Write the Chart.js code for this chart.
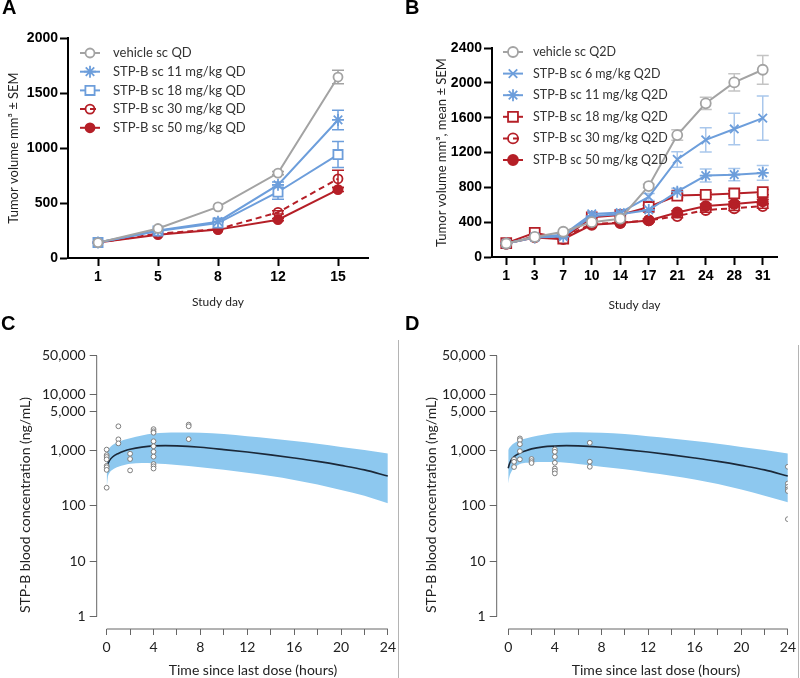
<!DOCTYPE html>
<html>
<head>
<meta charset="utf-8">
<script src="https://cdn.jsdelivr.net/npm/chart.js@4.4.1/dist/chart.umd.min.js"></script>
<style>
  body { margin: 0; background: #fff; }
  #wrap { position: relative; width: 800px; height: 678px; overflow: hidden; }
  canvas { position: absolute; }
  .letter { position: absolute; font: bold 20px "Liberation Sans", Arial, sans-serif; line-height: 20px; color: #000; }
  .vline { position: absolute; width: 1px; background: #b4b4b4; }
</style>
</head>
<body>
<div id="wrap">
  <canvas id="cA" width="400" height="320" style="left:0;top:0"></canvas>
  <canvas id="cB" width="400" height="320" style="left:400px;top:0"></canvas>
  <canvas id="cC" width="400" height="358" style="left:0;top:320px"></canvas>
  <canvas id="cD" width="400" height="358" style="left:400px;top:320px"></canvas>
  <div class="letter" style="left:2px;top:-3px">A</div>
  <div class="letter" style="left:405px;top:-3px">B</div>
  <div class="letter" style="left:1px;top:313px">C</div>
  <div class="letter" style="left:405px;top:313px">D</div>
  <div class="vline" style="left:398px;top:340px;height:338px"></div>
  <div class="vline" style="left:798px;top:345px;height:333px"></div>
</div>
<script>
// panel A - tumour volume, QD dosing
const daysA = ['1', '5', '8', '12', '15'];
const vehA = [140, 268, 465, 772, 1645];
const s11A = [140, 250, 330, 665, 1255];
const s18A = [140, 245, 318, 600, 940];
const s30A = [140, 222, 262, 415, 720];
const s50A = [140, 212, 258, 348, 622];
const vehErrA = [0, 0, 0, 15, 62];
const s11ErrA = [0, 0, 0, 25, 88];
const s18ErrA = [0, 0, 0, 65, 118];
const s30ErrA = [0, 0, 0, 15, 78];
const s50ErrA = [0, 0, 0, 10, 18];
const namesA = ['vehicle sc QD', 'STP-B sc 11 mg/kg QD', 'STP-B sc 18 mg/kg QD', 'STP-B sc 30 mg/kg QD', 'STP-B sc 50 mg/kg QD'];

// panel B - tumour volume, Q2D dosing
const daysB = ['1', '3', '7', '10', '14', '17', '21', '24', '28', '31'];
const vehB = [155, 230, 290, 400, 440, 815, 1400, 1765, 2005, 2150];
const s6B = [155, 230, 255, 495, 510, 690, 1120, 1345, 1470, 1595];
const s11B = [155, 225, 235, 470, 490, 540, 750, 935, 945, 965];
const s18B = [160, 278, 212, 455, 482, 575, 705, 715, 730, 745];
const s30B = [150, 240, 225, 380, 395, 420, 470, 540, 560, 585];
const s50B = [155, 225, 205, 370, 390, 420, 512, 585, 610, 638];
const vehErrB = [0, 0, 0, 0, 0, 20, 60, 70, 100, 165];
const s6ErrB = [0, 0, 0, 0, 0, 40, 90, 140, 180, 255];
const s11ErrB = [0, 0, 0, 0, 0, 20, 40, 75, 70, 85];
const s18ErrB = [0, 0, 0, 0, 0, 20, 25, 25, 30, 30];
const s30ErrB = [0, 0, 0, 0, 0, 15, 20, 25, 25, 25];
const s50ErrB = [0, 0, 0, 0, 0, 15, 20, 25, 25, 25];
const namesB = ['vehicle sc Q2D', 'STP-B sc 6 mg/kg Q2D', 'STP-B sc 11 mg/kg Q2D', 'STP-B sc 18 mg/kg Q2D', 'STP-B sc 30 mg/kg Q2D', 'STP-B sc 50 mg/kg Q2D'];

// panels C/D - PK model (median + band) and observed concentrations
const modelT = [0, 0.1, 0.25, 0.5, 1, 1.5, 2, 3, 4, 5, 6, 8, 10, 12, 14, 16, 18, 20, 22, 24];
const medC = [480, 560, 650, 750, 870, 960, 1030, 1130, 1190, 1200, 1190, 1120, 1020, 920, 820, 720, 625, 530, 440, 340];
const upC = [900, 1000, 1100, 1230, 1400, 1530, 1640, 1830, 1980, 2060, 2080, 2050, 1950, 1780, 1620, 1450, 1300, 1140, 1000, 870];
const loC = [200, 320, 390, 440, 500, 540, 565, 585, 580, 560, 540, 490, 440, 390, 340, 290, 240, 190, 150, 110];
const medD = [470, 560, 660, 760, 880, 970, 1050, 1140, 1180, 1200, 1190, 1120, 1020, 920, 820, 720, 625, 530, 440, 340];
const upD = [1000, 1100, 1200, 1330, 1500, 1620, 1720, 1880, 2020, 2080, 2090, 2050, 1950, 1780, 1620, 1450, 1300, 1140, 1000, 870];
const loD = [250, 330, 400, 470, 560, 590, 600, 610, 610, 590, 560, 500, 450, 395, 345, 295, 245, 195, 150, 115];
const obsTC = [0, 0, 0, 0, 0, 0, 0, 0, 1, 1, 1, 2, 2, 2, 4, 4, 4, 4, 4, 4, 4, 4, 4, 4, 7, 7, 7];
const obsC = [1020, 810, 750, 680, 520, 490, 440, 210, 2680, 1560, 1320, 860, 690, 430, 2380, 2180, 2050, 1440, 1170, 930, 760, 560, 510, 465, 2870, 2680, 1570];
const obsTD = [0.5, 0.5, 0.5, 1, 1, 1, 1, 1, 2, 2, 2, 4, 4, 4, 4, 4, 4, 4, 7, 7, 7, 24, 24, 24, 24, 24, 24];
const obsD = [680, 615, 495, 1620, 1510, 1275, 955, 680, 690, 630, 585, 1025, 930, 755, 590, 465, 425, 380, 1350, 617, 500, 500, 250, 218, 196, 183, 57];
const hourTicks = [0, 2, 4, 6, 8, 10, 12, 14, 16, 18, 20, 22, 24];
const concTicks = [1, 10, 100, 1000, 5000, 10000, 50000];

const GRAY = '#a3a3a3', BLUE = '#6d9edb', RED = '#b51f27';
const BOLD = { family: '"Liberation Sans", Arial, sans-serif', weight: 'bold', size: 14 };

// error bars drawn under the markers
const errorBars = {
  id: 'errorBars',
  beforeDatasetsDraw(chart) {
    const ctx = chart.ctx, ys = chart.scales.y;
    chart.data.datasets.forEach((ds, k) => {
      if (!ds.err) return;
      const meta = chart.getDatasetMeta(k);
      ctx.save();
      ctx.strokeStyle = ds.errColor || ds.borderColor;
      ctx.lineWidth = 1.5;
      meta.data.forEach((pt, i) => {
        const e = ds.err[i];
        if (!e) return;
        const top = ys.getPixelForValue(ds.data[i] + e);
        const bot = ys.getPixelForValue(ds.data[i] - e);
        const w = 6;
        ctx.beginPath();
        ctx.moveTo(pt.x, top); ctx.lineTo(pt.x, bot);
        ctx.moveTo(pt.x - w, top); ctx.lineTo(pt.x + w, top);
        ctx.moveTo(pt.x - w, bot); ctx.lineTo(pt.x + w, bot);
        ctx.stroke();
      });
      ctx.restore();
    });
  }
};

// legend with line + marker samples, placed inside the plot
const sideLegend = {
  id: 'sideLegend',
  afterDraw(chart, args, o) {
    const ctx = chart.ctx;
    ctx.save();
    ctx.font = o.font;
    ctx.textBaseline = 'middle';
    chart.data.datasets.forEach((ds, i) => {
      const y = o.y + i * o.dy;
      ctx.strokeStyle = ds.borderColor;
      ctx.lineWidth = ds.borderWidth;
      ctx.setLineDash(ds.borderDash || []);
      ctx.beginPath(); ctx.moveTo(o.x0, y); ctx.lineTo(o.x1, y); ctx.stroke();
      ctx.setLineDash([]);
      ctx.fillStyle = ds.pointBackgroundColor;
      ctx.strokeStyle = ds.pointBorderColor;
      ctx.lineWidth = ds.pointBorderWidth;
      Chart.helpers.drawPoint(ctx, { pointStyle: ds.pointStyle, radius: ds.pointRadius, borderWidth: ds.pointBorderWidth, rotation: 0 }, (o.x0 + o.x1) / 2, y);
      ctx.fillStyle = '#333';
      ctx.fillText(ds.label, o.tx, y);
    });
    ctx.restore();
  }
};

function series(label, data, err, color, style, r, fill, dash, errColor) {
  return {
    label: label, data: data, err: err, errColor: errColor,
    borderColor: color, backgroundColor: color, borderWidth: 2, borderDash: dash,
    pointStyle: style, pointRadius: r, pointHoverRadius: r,
    pointBackgroundColor: fill, pointBorderColor: color, pointBorderWidth: 1.8,
    tension: 0
  };
}

function tumourChart(id, days, datasets, yMax, yStep, yTitle, box, legend) {
  return new Chart(document.getElementById(id), {
    type: 'line',
    data: { labels: days, datasets: datasets },
    options: {
      responsive: false, animation: false,
      layout: { padding: { top: box.top, right: box.right, bottom: 0, left: 0 } },
      plugins: { legend: { display: false }, tooltip: { enabled: false }, sideLegend: legend },
      scales: {
        x: {
          offset: true,
          grid: { drawOnChartArea: false, tickLength: 8, tickColor: '#000', tickWidth: 2 },
          border: { color: '#000', width: 2 },
          ticks: { color: '#000', font: BOLD, padding: 3, maxRotation: 0 },
          title: { display: true, text: 'Study day', color: '#222', font: { family: 'Lato', size: 12 }, padding: { top: 0, bottom: box.xtPad } },
          afterFit: s => { s.height = box.xh; }
        },
        y: {
          min: 0, max: yMax,
          grid: { drawOnChartArea: false, tickLength: 8, tickColor: '#000', tickWidth: 2 },
          border: { color: '#000', width: 2 },
          ticks: { stepSize: yStep, color: '#000', font: BOLD, padding: 2, callback: v => String(v) },
          title: { display: true, text: yTitle, color: '#222', font: { family: 'Lato', size: 13 }, padding: { top: box.ytPad, bottom: 0 } },
          afterFit: s => { s.width = box.yw; }
        }
      }
    },
    plugins: [errorBars, sideLegend]
  });
}

tumourChart('cA', daysA, [
  series(namesA[0], vehA, vehErrA, GRAY, 'circle', 4.5, '#fff'),
  series(namesA[1], s11A, s11ErrA, BLUE, 'star', 6, BLUE),
  series(namesA[2], s18A, s18ErrA, BLUE, 'rect', 6.5, '#fff'),
  series(namesA[3], s30A, s30ErrA, RED, 'circle', 4.5, 'rgba(255,255,255,0)', [6, 4]),
  series(namesA[4], s50A, s50ErrA, RED, 'circle', 4.5, RED)
], 2000, 500, 'Tumor volume mm\u00b3 \u00b1 SEM',
  { top: 38, right: 32, xh: 62, yw: 68, xtPad: 11, ytPad: 6 },
  { x0: 80, x1: 100, tx: 113, y: 53, dy: 18.7, font: '13px Lato' });

tumourChart('cB', daysB, [
  series(namesB[0], vehB, vehErrB, GRAY, 'circle', 5, '#fff', undefined, '#c4c4c4'),
  series(namesB[1], s6B, s6ErrB, BLUE, 'crossRot', 6, BLUE, undefined, '#a9c7ec'),
  series(namesB[2], s11B, s11ErrB, BLUE, 'star', 6, BLUE, undefined, '#a9c7ec'),
  series(namesB[3], s18B, s18ErrB, RED, 'rect', 7, '#fff'),
  series(namesB[4], s30B, s30ErrB, RED, 'circle', 5, 'rgba(255,255,255,0)', [6, 4]),
  series(namesB[5], s50B, s50ErrB, RED, 'circle', 5, RED)
], 2400, 400, 'Tumor volume mm\u00b3, mean \u00b1 SEM',
  { top: 48, right: 23, xh: 63, yw: 92, xtPad: 8, ytPad: 34 },
  { x0: 103, x1: 123, tx: 133, y: 52, dy: 21.6, font: '12.5px Lato' });

// detached axis lines and titles for the PK panels
const pkAxes = {
  id: 'pkAxes',
  afterDraw(chart, args, o) {
    const { ctx, chartArea, scales: { x, y } } = chart;
    ctx.save();
    ctx.strokeStyle = '#666';
    ctx.lineWidth = 1;
    ctx.beginPath();
    ctx.moveTo(chartArea.left, y.getPixelForValue(concTicks[0]));
    ctx.lineTo(chartArea.left, y.getPixelForValue(concTicks[concTicks.length - 1]));
    ctx.moveTo(x.getPixelForValue(hourTicks[0]), chartArea.bottom);
    ctx.lineTo(x.getPixelForValue(hourTicks[hourTicks.length - 1]), chartArea.bottom);
    ctx.stroke();
    ctx.fillStyle = '#222';
    ctx.font = '14px Lato';
    ctx.textAlign = 'center';
    ctx.textBaseline = 'middle';
    ctx.fillText('Time since last dose (hours)', o.xtx, o.xty);
    ctx.translate(o.ytx, o.yty);
    ctx.rotate(-Math.PI / 2);
    ctx.fillText('STP-B blood concentration (ng/mL)', 0, 0);
    ctx.restore();
  }
};

function pkChart(id, obsT, obs, med, up, lo, xMin, padRight, titles) {
  const pts = arr => modelT.map((t, i) => ({ x: t, y: arr[i] }));
  const tickFont = { family: 'Lato', size: 14 };
  return new Chart(document.getElementById(id), {
    type: 'scatter',
    data: {
      datasets: [
        { data: obsT.map((t, i) => ({ x: t, y: obs[i] })), pointStyle: 'circle', pointRadius: 2.4,
          pointBorderColor: '#7d7d7d', pointBackgroundColor: '#fff', pointBorderWidth: 1, showLine: false },
        { data: pts(med), showLine: true, borderColor: '#1b2838', borderWidth: 1.6, pointRadius: 0, cubicInterpolationMode: 'monotone' },
        { data: pts(up), showLine: true, fill: '+1', backgroundColor: '#8dc8ef', borderWidth: 0, pointRadius: 0, cubicInterpolationMode: 'monotone' },
        { data: pts(lo), showLine: true, backgroundColor: '#8dc8ef', borderWidth: 0, pointRadius: 0, cubicInterpolationMode: 'monotone' }
      ]
    },
    options: {
      responsive: false, animation: false,
      layout: { padding: { top: 35.7, right: padRight, bottom: 0, left: 0 } },
      plugins: { legend: { display: false }, tooltip: { enabled: false }, pkAxes: titles },
      scales: {
        x: {
          type: 'linear', min: xMin, max: 24,
          afterBuildTicks: s => { s.ticks = hourTicks.map(v => ({ value: v })); },
          grid: { drawOnChartArea: false, tickLength: 6, tickColor: '#666' },
          border: { display: false },
          ticks: { autoSkip: false, maxRotation: 0, color: '#222', font: tickFont, padding: 4,
                   callback: v => (v % 4 === 0 ? String(v) : '') },
          afterFit: s => { s.height = 49; }
        },
        y: {
          type: 'logarithmic', min: 0.617, max: 50000,
          afterBuildTicks: s => { s.ticks = concTicks.map(v => ({ value: v })); },
          grid: { drawOnChartArea: false, tickLength: 7, tickColor: '#666' },
          border: { display: false },
          ticks: { autoSkip: false, color: '#222', font: tickFont, padding: 4,
                   callback: v => Number(v).toLocaleString('en-US') },
          afterFit: s => { s.width = 96.7; }
        }
      }
    },
    plugins: [pkAxes]
  });
}

pkChart('cC', obsTC, obsC, medC, upC, loC, -0.85, 10, { xtx: 253, xty: 350, ytx: 25, yty: 185 });
pkChart('cD', obsTD, obsD, medD, upD, loD, -0.99, 9, { xtx: 256, xty: 350, ytx: 31, yty: 185 });
</script>
</body>
</html>
